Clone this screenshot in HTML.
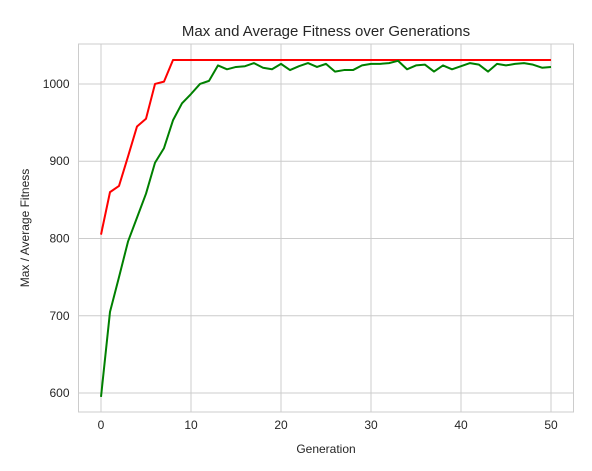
<!DOCTYPE html>
<html><head><meta charset="utf-8"><style>
body{margin:0;background:#fff;}
svg text{font-family:"Liberation Sans",Arial,sans-serif;fill:#262626;}
</style></head><body>
<svg width="592" height="466" xmlns="http://www.w3.org/2000/svg">
<rect x="0" y="0" width="592" height="466" fill="#fff"/>
<g id="grid"></g>
<rect x="78.5" y="44" width="495" height="368" fill="none" stroke="#cccccc" stroke-width="1"/>
<g id="ticks"></g>
<g id="lines"></g>
<text x="326" y="36" text-anchor="middle" font-size="15">Max and Average Fitness over Generations</text>
<text x="326" y="453" text-anchor="middle" font-size="12">Generation</text>
<text x="29" y="228" text-anchor="middle" font-size="12" transform="rotate(-90 29 228)">Max / Average Fitness</text>
</svg>
<script>
const maxFitness=[805,860,868,906,945,955,1000,1003,1031,1031,1031,1031,1031,1031,1031,1031,1031,1031,1031,1031,1031,1031,1031,1031,1031,1031,1031,1031,1031,1031,1031,1031,1031,1031,1031,1031,1031,1031,1031,1031,1031,1031,1031,1031,1031,1031,1031,1031,1031,1031,1031];
const avgFitness=[595,705,750,796,827,858,898,917,953,975,987,1000,1004,1024,1019,1022,1023,1027,1021,1019,1026,1018,1023,1027,1022,1026,1016,1018,1018,1024,1026,1026,1027,1030,1019,1024,1025,1016,1024,1019,1023,1027,1025,1016,1026,1024,1026,1027,1025,1021,1022];
const xTicks=[0,10,20,30,40,50];
const yTicks=[600,700,800,900,1000];
const NS="http://www.w3.org/2000/svg";
const L=78.5,R=573.5,T=44,B=412;
const xMin=-2.5,xMax=52.5;
const yMin=600-(412-393)/0.7733*1,yMax=1000+(84-44)/0.7733;
function sx(v){return L+(v-xMin)/(xMax-xMin)*(R-L);}
function sy(v){return B-(v-yMin)/(yMax-yMin)*(B-T);}
const grid=document.getElementById('grid'),ticks=document.getElementById('ticks'),lines=document.getElementById('lines');
xTicks.forEach(t=>{
 const l=document.createElementNS(NS,'line');
 l.setAttribute('x1',sx(t));l.setAttribute('x2',sx(t));l.setAttribute('y1',T);l.setAttribute('y2',B);
 l.setAttribute('stroke','#cccccc');
 
 
 grid.appendChild(l);
 const tx=document.createElementNS(NS,'text');
 tx.setAttribute('x',sx(t));tx.setAttribute('y',B+17);tx.setAttribute('text-anchor','middle');tx.setAttribute('font-size','12');
 tx.textContent=t;
 
 
 ticks.appendChild(tx);
});
yTicks.forEach(t=>{
 const l=document.createElementNS(NS,'line');
 l.setAttribute('x1',L);l.setAttribute('x2',R);l.setAttribute('y1',sy(t));l.setAttribute('y2',sy(t));
 l.setAttribute('stroke','#cccccc');
 
 
 grid.appendChild(l);
 const tx=document.createElementNS(NS,'text');
 tx.setAttribute('x',L-9);tx.setAttribute('y',sy(t)+4);tx.setAttribute('text-anchor','end');tx.setAttribute('font-size','12');
 tx.textContent=t;
 
 
 ticks.appendChild(tx);
});
function drawLine(arr,color,name){
 const p=document.createElementNS(NS,'polyline');
 p.setAttribute('points',arr.map((v,i)=>sx(i)+','+sy(v)).join(' '));
 p.setAttribute('fill','none');p.setAttribute('stroke',color);p.setAttribute('stroke-width','2');p.setAttribute('stroke-linejoin','round');
 
 
 lines.appendChild(p);
}
drawLine(maxFitness,'#ff0000','max-fitness-line');
drawLine(avgFitness,'#008000','average-fitness-line');
</script>
</body></html>
